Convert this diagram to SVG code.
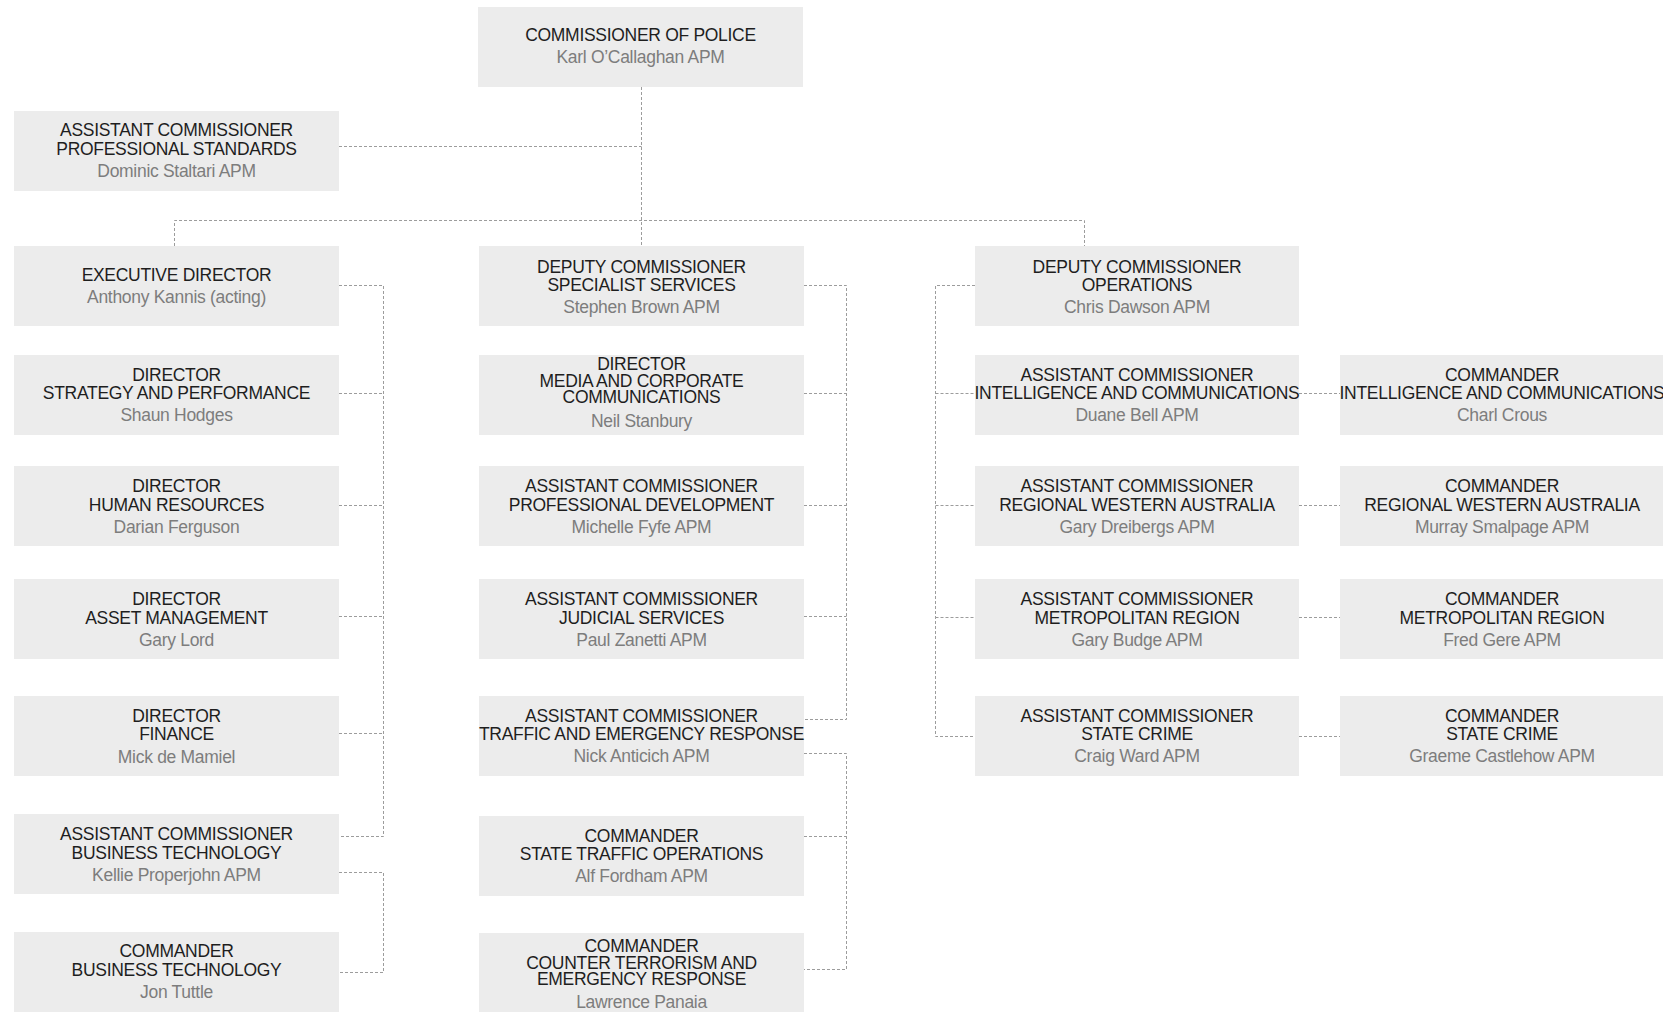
<svg xmlns="http://www.w3.org/2000/svg" width="1663" height="1012" viewBox="0 0 1663 1012">
<style>
.box{fill:#ececec}
text{font-family:"Liberation Sans",Arial,sans-serif;font-size:17.5px;letter-spacing:-0.3px;text-anchor:middle}
.t{fill:#1e1e1e}
.n{fill:#7d7d7d}
.c{fill:none;stroke:#9c9c9c;stroke-width:1;stroke-dasharray:3 2}
</style>
<rect width="1663" height="1012" fill="#ffffff"/>
<g id="connectors">
<path class="c" d="M641.5 87V246"/>
<path class="c" d="M339 146.5H641.5"/>
<path class="c" d="M174.5 246V220.5H1084.5V246"/>
<path class="c" d="M339 285.5H383.5V836.5H339"/>
<path class="c" d="M339 393.5H383.5M339 505.5H383.5M339 616.5H383.5M339 733.5H383.5"/>
<path class="c" d="M339 872.5H383.5V972.5H339"/>
<path class="c" d="M804 285.5H846.5V719.5H804"/>
<path class="c" d="M804 393.5H846.5M804 505.5H846.5M804 616.5H846.5"/>
<path class="c" d="M804 753.5H846.5V969.5H804"/>
<path class="c" d="M804 836.5H846.5"/>
<path class="c" d="M975 285.5H935.5V736.5H975"/>
<path class="c" d="M935.5 393.5H975M935.5 505.5H975M935.5 617.5H975"/>
<path class="c" d="M1299 393.5H1340M1299 505.5H1340M1299 617.5H1340M1299 736.5H1340"/>
</g>
<g id="commissioner">
<rect class="box" x="478" y="7" width="325" height="80"/>
<text class="t" x="640.5" y="41">COMMISSIONER OF POLICE</text>
<text class="n" x="640.5" y="63">Karl O’Callaghan APM</text>
</g>
<g id="ac-professional-standards">
<rect class="box" x="14" y="111" width="325" height="80"/>
<text class="t" x="176.5" y="136">ASSISTANT COMMISSIONER</text>
<text class="t" x="176.5" y="154.5">PROFESSIONAL STANDARDS</text>
<text class="n" x="176.5" y="176.5">Dominic Staltari APM</text>
</g>
<g id="executive-director">
<rect class="box" x="14" y="246" width="325" height="80"/>
<text class="t" x="176.5" y="281">EXECUTIVE DIRECTOR</text>
<text class="n" x="176.5" y="302.5">Anthony Kannis (acting)</text>
</g>
<g id="dir-strategy">
<rect class="box" x="14" y="355" width="325" height="80"/>
<text class="t" x="176.5" y="380.5">DIRECTOR</text>
<text class="t" x="176.5" y="399">STRATEGY AND PERFORMANCE</text>
<text class="n" x="176.5" y="421">Shaun Hodges</text>
</g>
<g id="dir-hr">
<rect class="box" x="14" y="466" width="325" height="80"/>
<text class="t" x="176.5" y="491.5">DIRECTOR</text>
<text class="t" x="176.5" y="510.5">HUMAN RESOURCES</text>
<text class="n" x="176.5" y="532.5">Darian Ferguson</text>
</g>
<g id="dir-asset">
<rect class="box" x="14" y="579" width="325" height="80"/>
<text class="t" x="176.5" y="605">DIRECTOR</text>
<text class="t" x="176.5" y="623.5">ASSET MANAGEMENT</text>
<text class="n" x="176.5" y="645.5">Gary Lord</text>
</g>
<g id="dir-finance">
<rect class="box" x="14" y="696" width="325" height="80"/>
<text class="t" x="176.5" y="721.5">DIRECTOR</text>
<text class="t" x="176.5" y="740">FINANCE</text>
<text class="n" x="176.5" y="762.5">Mick de Mamiel</text>
</g>
<g id="ac-business-technology">
<rect class="box" x="14" y="814" width="325" height="80"/>
<text class="t" x="176.5" y="840">ASSISTANT COMMISSIONER</text>
<text class="t" x="176.5" y="859">BUSINESS TECHNOLOGY</text>
<text class="n" x="176.5" y="881">Kellie Properjohn APM</text>
</g>
<g id="cmdr-business-technology">
<rect class="box" x="14" y="932" width="325" height="80"/>
<text class="t" x="176.5" y="956.5">COMMANDER</text>
<text class="t" x="176.5" y="975.5">BUSINESS TECHNOLOGY</text>
<text class="n" x="176.5" y="997.5">Jon Tuttle</text>
</g>
<g id="dc-specialist-services">
<rect class="box" x="479" y="246" width="325" height="80"/>
<text class="t" x="641.5" y="272.5">DEPUTY COMMISSIONER</text>
<text class="t" x="641.5" y="291">SPECIALIST SERVICES</text>
<text class="n" x="641.5" y="313">Stephen Brown APM</text>
</g>
<g id="dir-media">
<rect class="box" x="479" y="355" width="325" height="80"/>
<text class="t" x="641.5" y="370">DIRECTOR</text>
<text class="t" x="641.5" y="386.7">MEDIA AND CORPORATE</text>
<text class="t" x="641.5" y="403.4">COMMUNICATIONS</text>
<text class="n" x="641.5" y="426.5">Neil Stanbury</text>
</g>
<g id="ac-professional-development">
<rect class="box" x="479" y="466" width="325" height="80"/>
<text class="t" x="641.5" y="491.5">ASSISTANT COMMISSIONER</text>
<text class="t" x="641.5" y="510.5">PROFESSIONAL DEVELOPMENT</text>
<text class="n" x="641.5" y="532.5">Michelle Fyfe APM</text>
</g>
<g id="ac-judicial">
<rect class="box" x="479" y="579" width="325" height="80"/>
<text class="t" x="641.5" y="605">ASSISTANT COMMISSIONER</text>
<text class="t" x="641.5" y="623.5">JUDICIAL SERVICES</text>
<text class="n" x="641.5" y="645.5">Paul Zanetti APM</text>
</g>
<g id="ac-traffic">
<rect class="box" x="479" y="696" width="325" height="80"/>
<text class="t" x="641.5" y="721.5">ASSISTANT COMMISSIONER</text>
<text class="t" x="641.5" y="740">TRAFFIC AND EMERGENCY RESPONSE</text>
<text class="n" x="641.5" y="762">Nick Anticich APM</text>
</g>
<g id="cmdr-state-traffic">
<rect class="box" x="479" y="816" width="325" height="80"/>
<text class="t" x="641.5" y="841.5">COMMANDER</text>
<text class="t" x="641.5" y="860">STATE TRAFFIC OPERATIONS</text>
<text class="n" x="641.5" y="882">Alf Fordham APM</text>
</g>
<g id="cmdr-counter-terrorism">
<rect class="box" x="479" y="933" width="325" height="80"/>
<text class="t" x="641.5" y="951.7">COMMANDER</text>
<text class="t" x="641.5" y="968.5">COUNTER TERRORISM AND</text>
<text class="t" x="641.5" y="985.2">EMERGENCY RESPONSE</text>
<text class="n" x="641.5" y="1008">Lawrence Panaia</text>
</g>
<g id="dc-operations">
<rect class="box" x="975" y="246" width="324" height="80"/>
<text class="t" x="1137" y="272.5">DEPUTY COMMISSIONER</text>
<text class="t" x="1137" y="291">OPERATIONS</text>
<text class="n" x="1137" y="313">Chris Dawson APM</text>
</g>
<g id="ac-intelligence">
<rect class="box" x="975" y="355" width="324" height="80"/>
<text class="t" x="1137" y="380.5">ASSISTANT COMMISSIONER</text>
<text class="t" x="1137" y="399">INTELLIGENCE AND COMMUNICATIONS</text>
<text class="n" x="1137" y="421">Duane Bell APM</text>
</g>
<g id="ac-regional">
<rect class="box" x="975" y="466" width="324" height="80"/>
<text class="t" x="1137" y="491.5">ASSISTANT COMMISSIONER</text>
<text class="t" x="1137" y="510.5">REGIONAL WESTERN AUSTRALIA</text>
<text class="n" x="1137" y="532.5">Gary Dreibergs APM</text>
</g>
<g id="ac-metropolitan">
<rect class="box" x="975" y="579" width="324" height="80"/>
<text class="t" x="1137" y="605">ASSISTANT COMMISSIONER</text>
<text class="t" x="1137" y="623.5">METROPOLITAN REGION</text>
<text class="n" x="1137" y="645.5">Gary Budge APM</text>
</g>
<g id="ac-state-crime">
<rect class="box" x="975" y="696" width="324" height="80"/>
<text class="t" x="1137" y="721.5">ASSISTANT COMMISSIONER</text>
<text class="t" x="1137" y="740">STATE CRIME</text>
<text class="n" x="1137" y="762">Craig Ward APM</text>
</g>
<g id="cmdr-intelligence">
<rect class="box" x="1340" y="355" width="325" height="80"/>
<text class="t" x="1502" y="380.5">COMMANDER</text>
<text class="t" x="1502" y="399">INTELLIGENCE AND COMMUNICATIONS</text>
<text class="n" x="1502" y="421">Charl Crous</text>
</g>
<g id="cmdr-regional">
<rect class="box" x="1340" y="466" width="325" height="80"/>
<text class="t" x="1502" y="491.5">COMMANDER</text>
<text class="t" x="1502" y="510.5">REGIONAL WESTERN AUSTRALIA</text>
<text class="n" x="1502" y="532.5">Murray Smalpage APM</text>
</g>
<g id="cmdr-metropolitan">
<rect class="box" x="1340" y="579" width="325" height="80"/>
<text class="t" x="1502" y="605">COMMANDER</text>
<text class="t" x="1502" y="623.5">METROPOLITAN REGION</text>
<text class="n" x="1502" y="645.5">Fred Gere APM</text>
</g>
<g id="cmdr-state-crime">
<rect class="box" x="1340" y="696" width="325" height="80"/>
<text class="t" x="1502" y="721.5">COMMANDER</text>
<text class="t" x="1502" y="740">STATE CRIME</text>
<text class="n" x="1502" y="762">Graeme Castlehow APM</text>
</g>
</svg>
